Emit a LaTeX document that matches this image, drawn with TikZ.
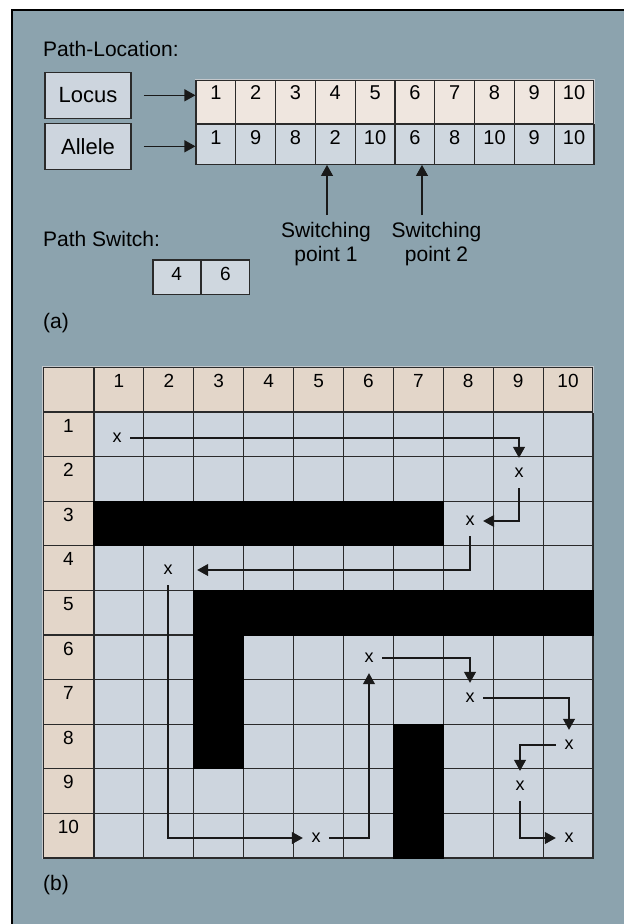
\documentclass[tikz,border=0pt]{standalone}
\usepackage{fontspec}
\setmainfont{Liberation Sans}
\usetikzlibrary{arrows.meta, positioning}
\definecolor{panelbg}{HTML}{8CA3AE}
\definecolor{locusfill}{HTML}{EFE6DF}
\definecolor{allelefill}{HTML}{CFD7DF}
\definecolor{headfill}{HTML}{E3D6C9}
\definecolor{cellfill}{HTML}{CDD5DE}
\definecolor{gridline}{HTML}{2A2A2A}
\definecolor{edgelight}{HTML}{C4C8CC}
\tikzstyle{labeltext} = [font=\fontsize{21}{23.7}\selectfont, inner sep=0pt]
\tikzstyle{parttext} = [font=\fontsize{21}{24}\selectfont, inner sep=0pt]
\tikzstyle{tagbox} = [rectangle, minimum width=86pt, minimum height=46pt, draw=gridline, line width=1.6pt, fill=cellfill, font=\fontsize{22}{26}\selectfont]
\tikzstyle{locuscell} = [rectangle, minimum width=39.8pt, inner sep=0pt, text height=19.3pt, text depth=24pt, draw=gridline, line width=1.1pt, fill=locusfill, font=\fontsize{20}{24}\selectfont]
\tikzstyle{allelecell} = [locuscell, text height=20pt, text depth=20pt, fill=allelefill]
\tikzstyle{switchcell} = [locuscell, minimum width=47.5pt, text height=20pt, text depth=14.3pt, fill=allelefill, font=\fontsize{19}{22}\selectfont]
\tikzstyle{cornercell} = [rectangle, minimum width=51pt, minimum height=45pt, inner sep=0pt, draw=gridline, line width=1.1pt, fill=headfill]
\tikzstyle{headcell} = [cornercell, minimum width=49.9pt, text height=20pt, text depth=25pt, font=\fontsize{19}{22}\selectfont]
\tikzstyle{rowcell} = [cornercell, minimum height=44.6pt, text height=20pt, text depth=24.6pt, font=\fontsize{19}{22}\selectfont]
\tikzstyle{bodycell} = [rectangle, minimum width=49.9pt, minimum height=44.6pt, inner sep=0pt, draw=gridline, line width=1.1pt, fill=cellfill]
\tikzstyle{xmark} = [minimum width=26pt, minimum height=30pt, inner sep=0pt, font=\fontsize{18}{22}\selectfont]
\tikzstyle{arrow} = [line width=1.1pt, draw=black!90, -{Triangle[length=11pt, width=12pt]}]

\begin{document}
\begin{tikzpicture}[x=1pt, y=-1pt]
    \useasboundingbox (0,0) rectangle (624,924);
    % Panel
    \fill[panelbg] (12,9.5) rectangle (624,924);
    \draw[line width=2pt] (12,924) -- (12,9.5) -- (624,9.5);

    % (a) Path-Location
    \node[labeltext, anchor=base west] (pathloc) at (43,56.7) {Path-Location:};
    \node[tagbox] (locus) at (88,95.3) {Locus};
    \node[tagbox, below=3.4pt of locus] (allele) {Allele};
    \foreach \i in {1,...,10}
        \node[locuscell] (l\i) at ({196+(\i-0.5)*39.8},101.65) {\i};
    \foreach \v [count=\i] in {1,9,8,2,10,6,8,10,9,10}
        \node[allelecell, below=0pt of l\i] (a\i) {\v};
    \draw[edgelight, line width=1.1pt] (l1.north west) -- (l10.north east) -- (l10.south east);
    \draw[arrow] ([xshift=12pt]locus.east) -- (locus.east -| l1.west);
    \draw[arrow] ([xshift=12pt]allele.east) -- (allele.east -| a1.west);

    % Switching points
    \coordinate (sp1) at (327,215);
    \coordinate (sp2) at (422,215);
    \draw[arrow] (sp1) -- (sp1 |- a4.south);
    \draw[arrow] (sp2) -- (sp2 |- a6.south);
    \node[labeltext, align=center, anchor=north] (sw1) at (326,222.5) {Switching\\point 1};
    \node[labeltext, align=center, anchor=north] (sw2) at (436.5,222.5) {Switching\\point 2};

    % Path switch
    \node[labeltext, anchor=base west] (pswitch) at (43,246) {Path Switch:};
    \node[switchcell] (ps1) at (176.75,277.15) {4};
    \node[switchcell, right=0pt of ps1] (ps2) {6};
    \node[parttext, anchor=west] (parta) at (43,323) {(a)};

    % (b) Grid
    \node[cornercell] (corner) at (68.5,389.5) {};
    \foreach \c in {1,...,10}
        \node[headcell] (h\c) at ({94+(\c-0.5)*49.9},389.5) {\c};
    \foreach \r in {1,...,10} {
        \node[rowcell] (r\r) at (68.5,{412+(\r-0.5)*44.6}) {\r};
        \foreach \c in {1,...,10}
            \node[bodycell] (g-\c-\r) at ({94+(\c-0.5)*49.9},{412+(\r-0.5)*44.6}) {};
    }
    \draw[edgelight, line width=1.1pt] (r10.south west) -- (corner.north west) -- (h10.north east) -- (h10.south east);

    % Walls
    \fill[black] (g-1-3.north west) rectangle (g-7-3.south east);
    \fill[black] (g-3-5.north west) rectangle (g-10-5.south east);
    \fill[black] (g-3-5.north west) rectangle (g-3-8.south east);
    \fill[black] (g-7-8.north west) rectangle (g-7-10.south east);

    % Route
    \node[xmark] (x1) at (117,438) {x};
    \node[xmark] (x2) at (519,473) {x};
    \node[xmark] (x3) at (470,521) {x};
    \node[xmark] (x4) at (168,570) {x};
    \node[xmark] (x5) at (316,838) {x};
    \node[xmark] (x6) at (369,658) {x};
    \node[xmark] (x7) at (470,698) {x};
    \node[xmark] (x8) at (569,745) {x};
    \node[xmark] (x9) at (520,786) {x};
    \node[xmark] (x10) at (569,838) {x};
    \draw[arrow] (x1) -| (x2);
    \draw[arrow] (x2) |- (x3);
    \draw[arrow, shorten >=16pt] (x3) |- (x4);
    \draw[arrow] (x4) |- (x5);
    \draw[arrow] (x5) -| (x6);
    \draw[arrow] (x6) -| (x7);
    \draw[arrow] (x7) -| (x8);
    \draw[arrow] (x8) -| (x9);
    \draw[arrow] (x9) |- (x10);

    \node[parttext, anchor=west] (partb) at (43,885) {(b)};
\end{tikzpicture}
\end{document}
